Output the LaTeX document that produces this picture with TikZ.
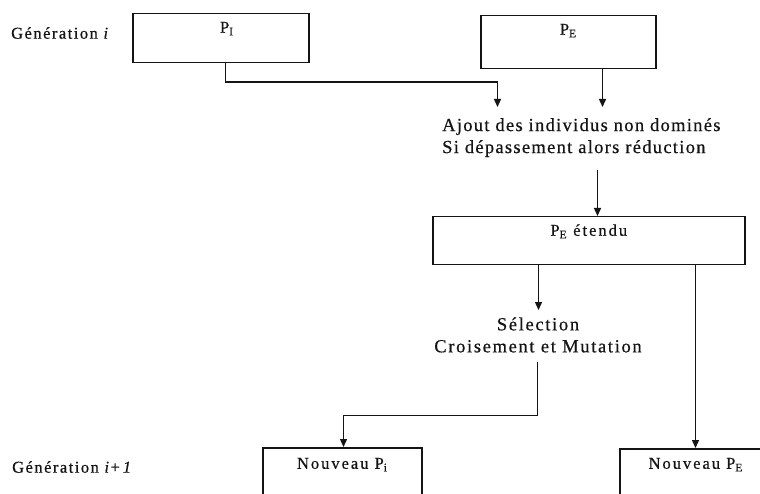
\documentclass[tikz,border=0pt]{standalone}
\usepackage{fontspec}
\setmainfont{Liberation Serif}[FakeBold=0.5]
\usetikzlibrary{arrows.meta}
\definecolor{ink}{gray}{0.08}
\newcommand\boxfont{\fontsize{16.5}{19}\selectfont\addfontfeatures{LetterSpace=12}}
\newcommand\notefont{\fontsize{18.5}{22}\selectfont\addfontfeatures{LetterSpace=7}}
\newcommand\selfont{\fontsize{18.5}{22}\selectfont\addfontfeatures{LetterSpace=9}}
\newcommand\genfont{\fontsize{16.5}{19}\selectfont\addfontfeatures{LetterSpace=9}}
\begin{document}
\begin{tikzpicture}[x=1pt,y=-1pt,
  box/.style={draw=ink, line width=1.5pt, inner sep=0pt, anchor=north west, text=ink, font=\boxfont},
  note/.style={inner sep=0pt, text=ink, font=\notefont},
  gen/.style={inner sep=0pt, anchor=west, text=ink, font=\genfont},
  flow/.style={draw=ink, line width=1.4pt},
  arr/.style={flow, -{Triangle[width=7pt,length=8pt]}},
]
\useasboundingbox[fill=white] (0,0) rectangle (760,494);
\clip (0,0) rectangle (760,494);

% generation labels
\node[gen] (gen1) at (11,33) {Génération \textit{i}};
\node[gen] (gen2) at (12,467) {Génération \textit{i}+\kern3pt\textit{1}};

% populations of generation i
\node[box, minimum width=176pt, text height=19pt, text depth=30pt] (pI) at (132,13) {\kern12pt P\textsubscript{I}};
\node[box, minimum width=175pt, text height=19pt, text depth=34pt] (pE) at (480,15) {P\textsubscript{E}};

% archive update
\node[note, anchor=north west, align=left] (ajout) at (442,118) {Ajout des individus non dominés\\Si dépassement alors réduction};
\coordinate (inA) at (497.5,107);
\coordinate (inB) at (602.5,107);
\draw[arr] ([xshift=4.5pt]pI.south) -- ++(0,18.5) -| (inA);
\draw[arr] (pE.south -| inB) -- (inB);

% extended archive
\node[box, minimum width=312pt, text height=19pt, text depth=29pt] (pEx) at (432,216) {P\textsubscript{E} étendu};
\coordinate (c1) at (597.5,170);
\draw[arr] (c1) -- (c1 |- pEx.north);

% genetic operators
\node[note, align=center, font=\selfont] (sel) at (538,335) {Sélection\\Croisement et Mutation};
\coordinate (c2) at (538.5,310);
\draw[arr] (pEx.south -| c2) -- (c2);

% populations of generation i+1
\node[box, minimum width=159pt, text height=21pt, text depth=60pt] (nPi) at (262,447) {Nouveau P\textsubscript{i}};
\node[box, minimum width=160pt, text height=20pt, text depth=60pt] (nPE) at (619,448) {Nouveau P\textsubscript{E}\kern8pt};

\coordinate (c3) at (537.5,362);
\coordinate (c4) at (343.5,0);
\draw[arr] (c3) -- ++(0,53.5) -| (c4 |- nPi.north);
\coordinate (c5) at (695.5,0);
\draw[arr] (pEx.south -| c5) -- (c5 |- nPE.north);
\end{tikzpicture}
\end{document}
